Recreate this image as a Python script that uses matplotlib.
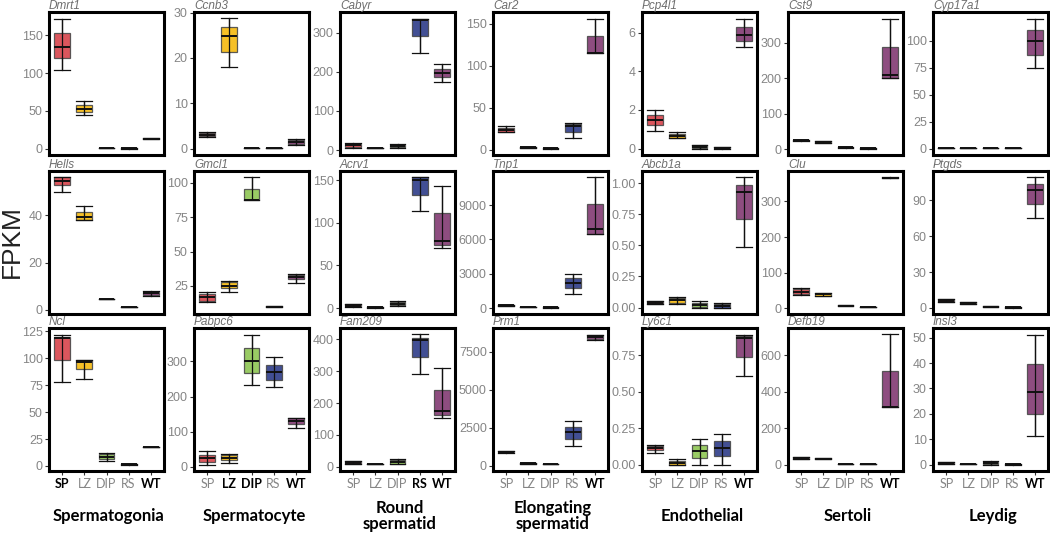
import matplotlib
matplotlib.use("Agg")
import matplotlib.pyplot as plt

# groups on the x axis of every panel
groups = ["SP", "LZ", "DIP", "RS", "WT"]
group_colors = ["#d8444b", "#f6b90f", "#8ec653", "#2d3c88", "#823a72"]

# box stats per gene, one tuple per group: (whisker low, q1, median, q3, whisker high)
dmrt1 = [(104, 119.5, 134, 153, 172), (44, 48, 53, 57.6, 63.7), (0.5, 0.6, 0.8, 1.0, 1.1),
         (0.4, 0.5, 0.6, 0.8, 0.9), (12.6, 13, 13.3, 13.8, 14.2)]
ccnb3 = [(2.6, 2.8, 3.0, 3.4, 3.6), (18.1, 21.4, 24.8, 26.8, 28.7), (0.05, 0.08, 0.1, 0.12, 0.15),
         (0.05, 0.08, 0.1, 0.12, 0.15), (0.9, 1.1, 1.5, 1.9, 2.1)]
cabyr = [(6, 8, 12, 16, 18), (4, 4.5, 5, 5.5, 6), (6, 8, 10, 14, 16),
         (249, 291, 333, 336, 336), (175, 186, 196, 207, 221)]
car2 = [(21, 21.2, 23.6, 25.6, 28.4), (2, 2.2, 2.5, 2.8, 3), (1.2, 1.3, 1.5, 1.7, 1.8),
        (13.2, 21.2, 28.4, 31, 31.6), (115, 115, 115.5, 136, 156.5)]
pcp4l1 = [(0.9, 1.2, 1.5, 1.74, 2.0), (0.52, 0.54, 0.64, 0.77, 0.85), (0, 0.02, 0.08, 0.16, 0.2),
          (0, 0.02, 0.05, 0.09, 0.1), (5.25, 5.55, 5.86, 6.3, 6.73)]
cst9 = [(24, 24.5, 25, 25.5, 26), (16, 17, 20, 23, 24), (4, 4.5, 5, 5.5, 6),
        (1.5, 1.8, 2, 2.2, 2.5), (202, 202, 210, 289, 369)]
cyp17a1 = [(0.3, 0.4, 0.5, 0.6, 0.7), (0.1, 0.15, 0.2, 0.25, 0.3), (0.1, 0.15, 0.2, 0.25, 0.3),
           (0.1, 0.15, 0.2, 0.25, 0.3), (74.5, 87.2, 99.3, 109.6, 120.6)]

hells = [(49.8, 53.1, 54.5, 56.1, 56.1), (38, 38, 39.5, 41.3, 44.1), (4.3, 4.4, 4.5, 4.6, 4.7),
         (0.9, 0.95, 1.0, 1.05, 1.1), (5.8, 6.2, 7.0, 7.5, 7.8)]
gmcl1 = [(13.2, 14, 16.6, 18.8, 20.3), (20.8, 23.2, 25, 27.7, 28.4), (87.5, 87.5, 87.5, 95.8, 104),
         (9.3, 9.6, 10, 10.4, 10.6), (27.2, 30.4, 31.8, 33.3, 33.8)]
acrv1 = [(1.5, 2, 3, 4.5, 5), (0.8, 0.9, 1, 1.1, 1.2), (3, 3.5, 5, 7.5, 8),
         (114, 133, 150.4, 153, 153), (71, 74.5, 79.2, 111.3, 143.4)]
tnp1 = [(230, 240, 250, 260, 270), (90, 95, 100, 105, 110), (70, 75, 80, 85, 90),
        (1224, 1783, 2246, 2657, 3000), (6469, 6469, 6906, 9126, 11400)]
abcb1a = [(0.025, 0.03, 0.04, 0.05, 0.055), (0.025, 0.04, 0.06, 0.08, 0.083), (0, 0.005, 0.02, 0.04, 0.055),
          (0, 0.0, 0.015, 0.03, 0.035), (0.49, 0.71, 0.93, 0.99, 1.048)]
clu = [(38, 40, 47, 55.7, 57), (35, 36, 39, 42, 44), (7, 7.5, 8, 8.5, 9),
       (2.5, 2.8, 3, 3.2, 3.5), (365, 365.5, 366, 366.5, 367)]
ptgds = [(5, 5.2, 6.2, 7.5, 7.6), (3, 3.2, 4, 5, 5.2), (1, 1.1, 1.2, 1.3, 1.4),
         (0.4, 0.45, 0.5, 0.55, 0.6), (75, 87.2, 98.4, 103.4, 109)]

ncl = [(78, 98.1, 118.7, 120.3, 122.2), (80.9, 89.7, 97, 98.1, 98.1), (5, 6, 8.5, 11, 12),
       (1.3, 1.4, 1.5, 1.6, 1.7), (17.3, 17.4, 17.5, 17.6, 17.7)]
pabpc6 = [(7, 15.5, 26, 33.5, 46), (11, 18.6, 26, 33, 36.4), (232, 267.6, 302, 339, 376.5),
          (227.5, 248, 270.5, 291, 312), (110, 123, 131.7, 140, 140)]
fam209 = [(8, 9, 13, 17, 18), (7, 7.5, 8, 8.5, 9), (7, 8, 14, 22, 23),
          (290, 343, 397, 405, 415), (151.7, 163, 174.5, 241, 310)]
prm1 = [(870, 880, 930, 990, 1000), (140, 145, 150, 155, 160), (80, 85, 90, 95, 100),
        (1303, 1787, 2230, 2560, 2932), (8300, 8340, 8471, 8600, 8650)]
ly6c1 = [(0.08, 0.098, 0.112, 0.13, 0.133), (0, 0, 0.012, 0.025, 0.036), (0, 0.048, 0.092, 0.131, 0.174),
         (0, 0.057, 0.115, 0.158, 0.206), (0.606, 0.741, 0.869, 0.885, 0.892)]
defb19 = [(33, 34, 38, 42, 43), (31, 32, 35, 37, 38), (4, 4.5, 5, 5.5, 6),
          (2.5, 2.8, 3, 3.2, 3.5), (318, 318, 318, 514, 713)]
insl3 = [(0.3, 0.3, 0.5, 0.8, 0.8), (0.05, 0.08, 0.1, 0.12, 0.15), (0, 0.1, 0.5, 1.1, 1.2),
         (0, 0.01, 0.02, 0.03, 0.04), (11.4, 19.8, 28.6, 39.8, 51.3)]

gene_rows = [
    [("Dmrt1", dmrt1), ("Ccnb3", ccnb3), ("Cabyr", cabyr), ("Car2", car2),
     ("Pcp4l1", pcp4l1), ("Cst9", cst9), ("Cyp17a1", cyp17a1)],
    [("Hells", hells), ("Gmcl1", gmcl1), ("Acrv1", acrv1), ("Tnp1", tnp1),
     ("Abcb1a", abcb1a), ("Clu", clu), ("Ptgds", ptgds)],
    [("Ncl", ncl), ("Pabpc6", pabpc6), ("Fam209", fam209), ("Prm1", prm1),
     ("Ly6c1", ly6c1), ("Defb19", defb19), ("Insl3", insl3)],
]

# y tick values per panel
yticks = [
    [[0, 50, 100, 150], [0, 10, 20, 30], [0, 100, 200, 300], [0, 50, 100, 150],
     [0, 2, 4, 6], [0, 100, 200, 300], [0, 25, 50, 75, 100]],
    [[0, 20, 40], [25, 50, 75, 100], [0, 50, 100, 150], [0, 3000, 6000, 9000],
     [0.0, 0.25, 0.5, 0.75, 1.0], [0, 100, 200, 300], [0, 30, 60, 90]],
    [[0, 25, 50, 75, 100, 125], [0, 100, 200, 300], [0, 100, 200, 300, 400], [0, 2500, 5000, 7500],
     [0.0, 0.25, 0.5, 0.75], [0, 200, 400, 600], [0, 10, 20, 30, 40, 50]],
]

cell_types = ["Spermatogonia", "Spermatocyte", "Round\nspermatid", "Elongating\nspermatid",
              "Endothelial", "Sertoli", "Leydig"]
bold_groups = [["SP", "WT"], ["LZ", "DIP", "WT"], ["RS", "WT"], ["WT"], ["WT"], ["WT"], ["WT"]]

# ---- layout (pixels on a 1050 x 536 canvas)
W, H = 1050, 536
col_left = [49, 194, 340, 493, 642, 788, 933]
row_top = [12, 171, 328]
pw, ph = 115, 143
grey = "#858585"

fig = plt.figure(figsize=(W / 100, H / 100), dpi=100)

for r, row in enumerate(gene_rows):
    for c, (gene, st) in enumerate(row):
        ax = fig.add_axes([col_left[c] / W, 1 - (row_top[r] + ph) / H, pw / W, ph / H])
        pos = list(range(1, len(groups) + 1))
        stats = [dict(whislo=s[0], q1=s[1], med=s[2], q3=s[3], whishi=s[4], label=g)
                 for s, g in zip(st, groups)]
        parts = ax.bxp(stats, positions=pos, widths=0.72, capwidths=0.72, patch_artist=True,
                       showfliers=False,
                       boxprops=dict(linewidth=0.9, edgecolor="#4a4a4a"),
                       medianprops=dict(color="#111111", linewidth=1.4),
                       whiskerprops=dict(color="#111111", linewidth=0.9),
                       capprops=dict(color="#111111", linewidth=0.9))
        for patch, col in zip(parts["boxes"], group_colors):
            patch.set_facecolor(col)
            patch.set_alpha(0.9)
            patch.set_edgecolor("#4a4a4a")
        # errorbar-style line through the box
        ax.vlines(pos, [s[0] for s in st], [s[4] for s in st], color="#111111",
                  linewidth=0.9, zorder=4)
        for m in parts["medians"]:
            m.set_zorder(5)

        lo = min(s[0] for s in st)
        hi = max(s[4] for s in st)
        pad = (hi - lo) * 0.05
        ax.set_ylim(lo - pad, hi + pad)
        ax.set_xlim(0.4, 5.6)

        ticks = yticks[r][c]
        ax.set_yticks(ticks)
        if any(t != int(t) for t in ticks):
            ax.set_yticklabels([f"{t:.2f}" for t in ticks])
        else:
            ax.set_yticklabels([f"{t:g}" for t in ticks])

        for sp in ax.spines.values():
            sp.set_linewidth(2.2)
            sp.set_color("black")
        ax.tick_params(axis="y", length=3, width=0.8, color="#333333", labelcolor=grey,
                       labelsize=9, pad=1.5)
        for lab in ax.get_yticklabels():
            lab.set_fontfamily("Liberation Sans")

        if r == len(gene_rows) - 1:
            ax.set_xticks(pos)
            ax.set_xticklabels(groups, fontfamily="Lato", fontsize=9)
            ax.tick_params(axis="x", length=3, width=0.8, color="#333333", pad=2)
            for lab, g in zip(ax.get_xticklabels(), groups):
                if g in bold_groups[c]:
                    lab.set_fontweight("bold")
                    lab.set_color("black")
                else:
                    lab.set_color(grey)
            ax.text(0.5 + 0.02, -0.315, cell_types[c], transform=ax.transAxes, ha="center",
                    va="center", fontsize=12, fontweight="bold", fontfamily="Lato",
                    linespacing=1.0)
        else:
            ax.set_xticks([])

        ax.set_title(gene, loc="left", fontsize=8.5, fontstyle="italic", color="#6e6e6e",
                     pad=1.5, fontfamily="Liberation Sans")

fig.text(0.011, 0.55, "FPKM", rotation=90, ha="center", va="center", fontsize=19,
         color="#222222", fontfamily="Liberation Sans")

fig.savefig("out.png", dpi=100)
